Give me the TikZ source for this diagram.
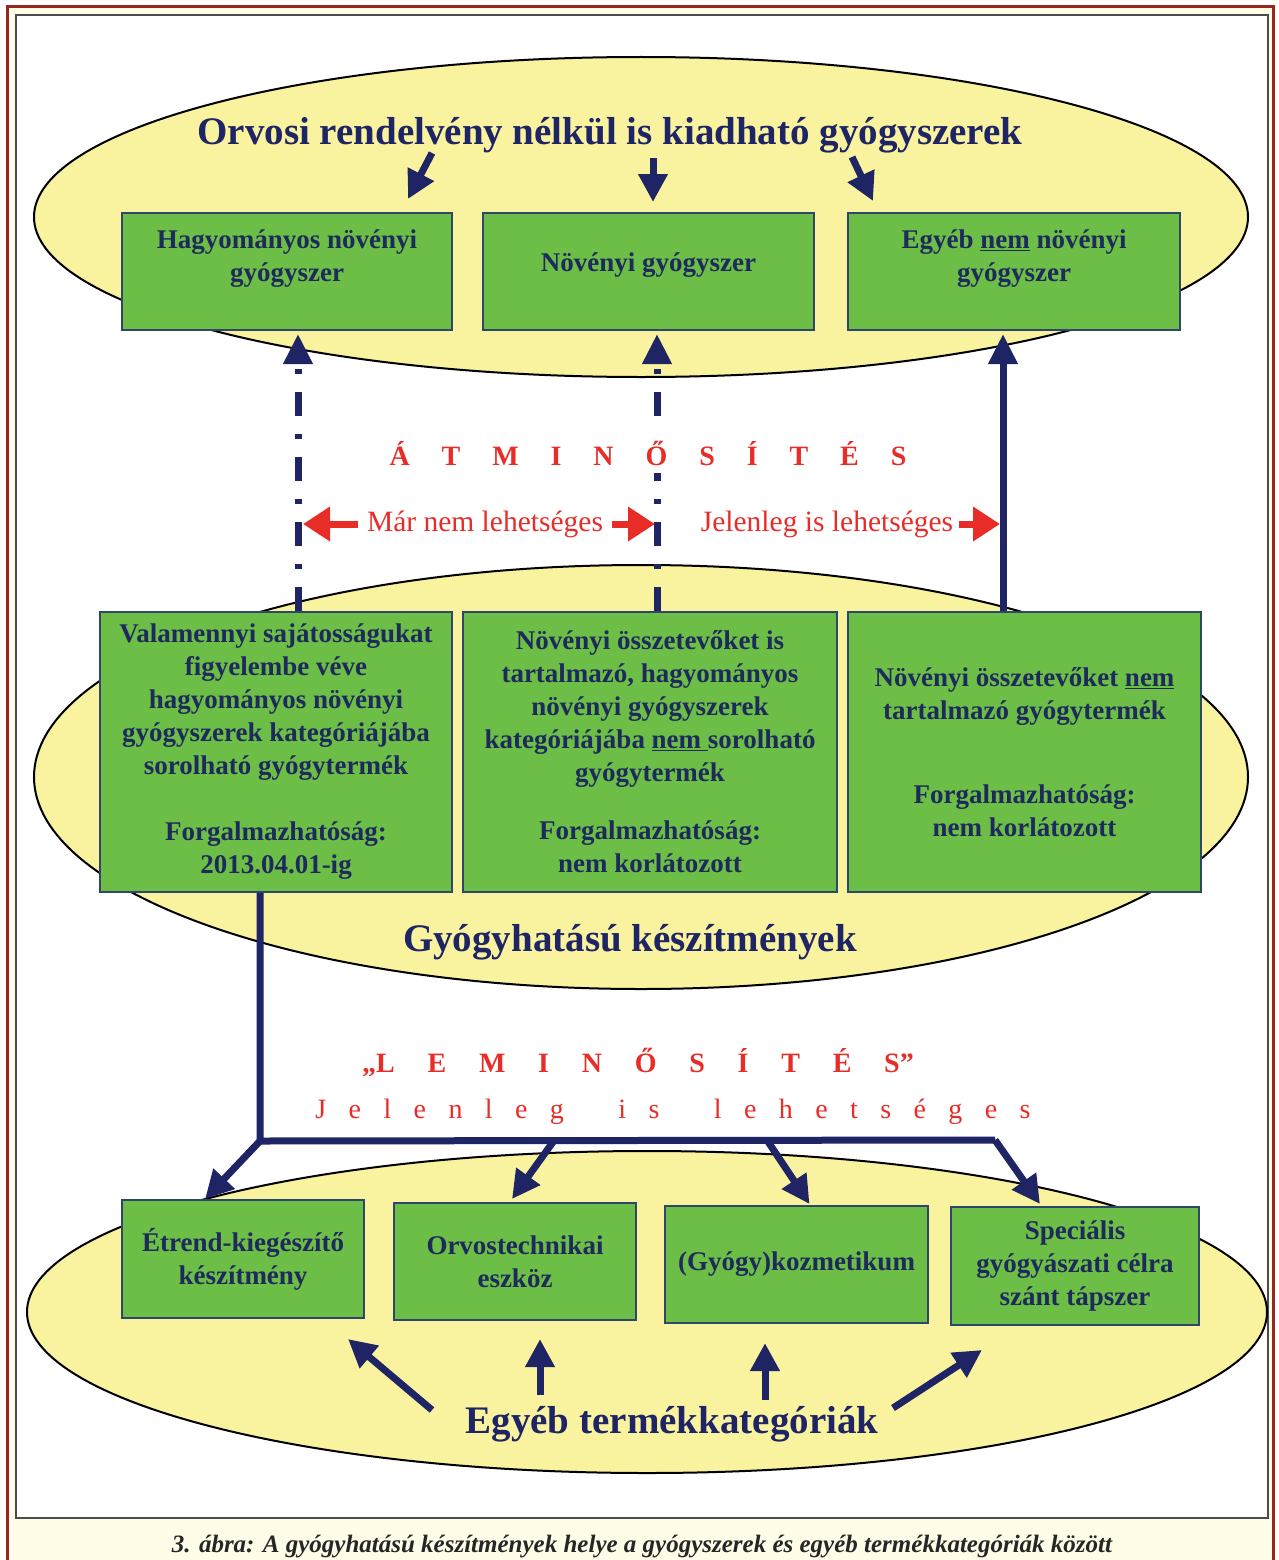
\documentclass[tikz,border=0pt]{standalone}
\usepackage{fontspec}
\setmainfont{Liberation Serif}
\usepackage{xcolor}
\usetikzlibrary{arrows.meta,positioning,calc,shapes.geometric}

\definecolor{navy}{RGB}{30,36,100}
\definecolor{boxtext}{RGB}{30,42,92}
\definecolor{leafgreen}{RGB}{108,190,70}
\definecolor{boxedge}{RGB}{45,70,105}
\definecolor{paleyellow}{RGB}{249,243,160}
\definecolor{signalred}{RGB}{232,45,40}
\definecolor{cream}{RGB}{255,252,232}
\definecolor{framered}{RGB}{150,40,30}

\newcommand{\tracked}[2]{{\addfontfeature{LetterSpace=#1}#2}}

\tikzset{
  zone/.style={ellipse, draw=black, line width=2pt, fill=paleyellow, inner sep=0pt},
  catbox/.style={rectangle, draw=boxedge, line width=2pt, fill=leafgreen, text=boxtext,
    align=center, inner sep=0pt, font=\bfseries\fontsize{27}{33}\selectfont},
  biglabel/.style={text=navy, inner sep=0pt, font=\bfseries\fontsize{39}{42}\selectfont},
  navyline/.style={draw=navy, line width=7pt},
  navyarrow/.style={navyline, -{Triangle[length=28pt,width=28pt]}},
  dashdot/.style={navyline, dash pattern=on 24pt off 18pt on 5pt off 18pt},
  redarrow/.style={draw=signalred, line width=7pt, -{Triangle[length=27pt,width=33pt]}},
  redlabel/.style={text=signalred, fill=white, inner xsep=9pt, inner ysep=4pt,
    font=\fontsize{29.5}{31}\selectfont},
  spaced/.style={text=signalred, fill=white, inner xsep=0pt, inner ysep=8pt,
    font=\bfseries\fontsize{28}{30}\selectfont}
}

\begin{document}
\begin{tikzpicture}[x=1pt,y=-1pt]
    % Frame
    \useasboundingbox (0,0) rectangle (1278,1560);
    \fill[white] (0,0) rectangle (1278,1560);
    \draw[framered, line width=3pt, fill=cream] (7,7) rectangle (1273,1580);
    \draw[black!70, line width=2pt, fill=white] (16,15) rectangle (1268,1518);

    % Category zones
    \node[zone, minimum width=1214, minimum height=320] (drugzone) at (641,217) {};
    \node[zone, minimum width=1214, minimum height=424] (medzone) at (641,777) {};
    \node[zone, minimum width=1240, minimum height=322] (otherzone) at (647,1312) {};

    \node[biglabel, anchor=base] (title) at (610,144) {Orvosi rendelvény nélkül is kiadható gyógyszerek};
    \node[biglabel, anchor=base] (gyogy) at (630,951) {Gyógyhatású készítmények};
    \node[biglabel, anchor=base] (egyeb) at (672,1433) {Egyéb termékkategóriák};

    % Drugs
    \node[catbox, minimum width=330, minimum height=117] (b1) at (287,271.5) {Hagyományos növényi\\gyógyszer\\[-2pt]\mbox{}};
    \node[catbox, minimum width=331, minimum height=117] (b2) at (648.5,271.5) {Növényi gyógyszer\\[-14pt]\mbox{}};
    \node[catbox, minimum width=332, minimum height=117] (b3) at (1014,271.5) {Egyéb \underline{nem} növényi\\gyógyszer\\[-2pt]\mbox{}};

    % Medicinal products
    \node[catbox, minimum width=352, minimum height=280] (m1) at (276,752)
        {Valamennyi sajátosságukat\\figyelembe véve\\hagyományos növényi\\gyógyszerek kategóriájába\\sorolható gyógytermék\\[33pt]Forgalmazhatóság:\\2013.04.01-ig};
    \node[catbox, minimum width=374, minimum height=280] (m2) at (650,752)
        {Növényi összetevőket is\\tartalmazó, hagyományos\\növényi gyógyszerek\\kategóriájába \underline{nem\ }sorolható\\gyógytermék\\[25pt]Forgalmazhatóság:\\nem korlátozott};
    \node[catbox, minimum width=353, minimum height=280] (m3) at (1024.5,752)
        {Növényi összetevőket \underline{nem}\\tartalmazó gyógytermék\\[51pt]Forgalmazhatóság:\\nem korlátozott};

    % Other categories
    \node[catbox, minimum width=242, minimum height=118] (l1) at (243,1259) {Étrend-kiegészítő\\készítmény};
    \node[catbox, minimum width=242, minimum height=117] (l2) at (515,1261.5) {Orvostechnikai\\eszköz};
    \node[catbox, minimum width=263, minimum height=117] (l3) at (796.5,1264.5) {(Gyógy)kozmetikum};
    \node[catbox, minimum width=248, minimum height=118] (l4) at (1075,1266) {Speciális\\gyógyászati célra\\szánt tápszer};

    % Title arrows
    \draw[navyarrow] ($(title.base)+(-178,9)$) -- ($(b1.north)+(121,-13)$);
    \draw[navyarrow] ($(title.base)+(43,14)$) -- ($(b2.north)+(4.5,-10)$);
    \draw[navyarrow] ($(title.base)+(242,13)$) -- ($(b3.north)+(-141,-11)$);

    % Reclassification upwards
    \coordinate (foot1) at ($(m1.north)+(22,0)$);
    \coordinate (foot2) at ($(m2.north)+(7,0)$);
    \coordinate (foot3) at ($(m3.north)+(-21.5,0)$);
    \draw[dashdot, -{Triangle[length=30pt,width=28pt]}] (foot1) -- ($(b1.south)+(11,3)$);
    \draw[dashdot, -{Triangle[length=30pt,width=28pt]}] (foot2) -- ($(b2.south)+(8.5,3)$);
    \draw[navyline, -{Triangle[length=30pt,width=28pt]}] (foot3) -- ($(b3.south)+(-11,3)$);

    \node[spaced, anchor=base] (atm) at (648,465) {\tracked{114}{ÁTMINŐSÍTÉS}};
    \node[redlabel] (mar) at (485,524) {Már nem lehetséges};
    \node[redlabel, inner xsep=6pt] (jel) at (827,524) {Jelenleg is lehetséges};
    \draw[redarrow] (mar.west) -- ($(mar.west -| foot1)+(5,0)$);
    \draw[redarrow] (mar.east) -- ($(mar.east -| foot2)+(-2,0)$);
    \draw[redarrow] (jel.east) -- ($(jel.east -| foot3)+(-3,0)$);

    % Downgrading
    \coordinate (knee) at ($(m1.south)+(-16,248)$);
    \coordinate (fork) at (995,1140);
    \draw[navyline] ($(m1.south)+(-16,0)$) -- (knee) -- (fork);
    \draw[navyarrow] (knee) -- ($(l1.north)+(-38,0)$);
    \draw[navyarrow] ($(knee)!0.4!(fork)$) -- ($(l2.north)+(-3,-3)$);
    \draw[navyarrow] ($(knee)!0.69!(fork)$) -- ($(l3.north)+(13,-1)$);
    \draw[navyarrow] (fork) -- ($(l4.north)+(-35,-2)$);

    \node[spaced, anchor=base] (lem) at (638,1072) {„\tracked{117}{LEMINŐSÍTÉS}”};
    \node[text=signalred, inner sep=0pt, anchor=base, font=\fontsize{28}{30}\selectfont] (jel2) at (673,1118)
        {\tracked{80}{Jelenleg\hspace{25pt} is\hspace{25pt} lehetséges}};

    % Other categories pointing up
    \draw[navyarrow] ($(egyeb.base)+(-240,-23)$) -- ($(l1.south)+(105,20)$);
    \draw[navyarrow] ($(egyeb.base)+(-132,-38)$) -- ($(l2.south)+(25,18)$);
    \draw[navyarrow] ($(egyeb.base)+(93,-33)$) -- ($(l3.south)+(-31.5,19)$);
    \draw[navyarrow] ($(egyeb.base)+(221,-25)$) -- ($(l4.south)+(-93,24)$);

    \node[anchor=base, inner sep=0pt, text=black!85, font=\bfseries\itshape\fontsize{25}{28}\selectfont] (caption) at (642,1552)
        {3. ábra: A gyógyhatású készítmények helye a gyógyszerek és egyéb termékkategóriák között};
\end{tikzpicture}
\end{document}
